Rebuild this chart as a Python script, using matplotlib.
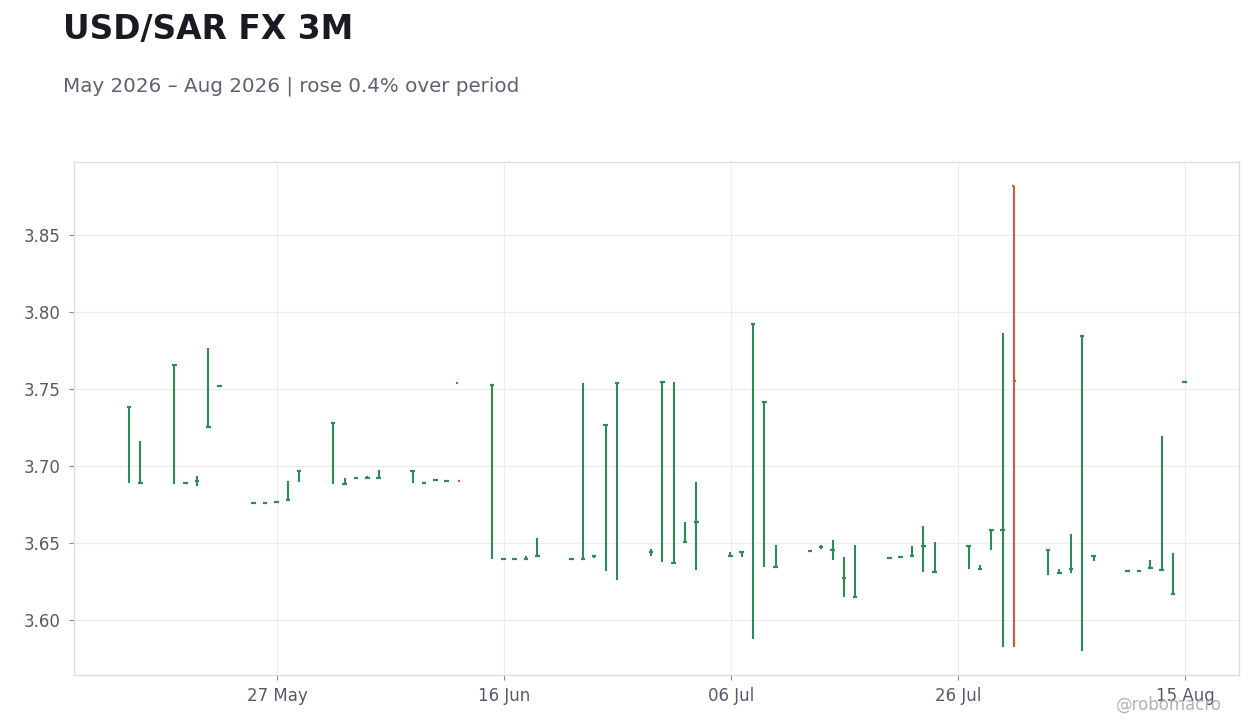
import numpy as np
import matplotlib
matplotlib.use("Agg")
import matplotlib.pyplot as plt
import matplotlib.dates as mdates

dates = ["2026-05-14", "2026-05-15", "2026-05-18", "2026-05-19", "2026-05-20", "2026-05-21", "2026-05-22",
         "2026-05-25", "2026-05-26", "2026-05-27", "2026-05-28", "2026-05-29",
         "2026-06-01", "2026-06-02", "2026-06-03", "2026-06-04", "2026-06-05",
         "2026-06-08", "2026-06-09", "2026-06-10", "2026-06-11", "2026-06-12",
         "2026-06-15", "2026-06-16", "2026-06-17", "2026-06-18", "2026-06-19",
         "2026-06-22", "2026-06-23", "2026-06-24", "2026-06-25", "2026-06-26",
         "2026-06-29", "2026-06-30", "2026-07-01", "2026-07-02", "2026-07-03",
         "2026-07-06", "2026-07-07", "2026-07-08", "2026-07-09", "2026-07-10",
         "2026-07-13", "2026-07-14", "2026-07-15", "2026-07-16", "2026-07-17",
         "2026-07-20", "2026-07-21", "2026-07-22", "2026-07-23", "2026-07-24",
         "2026-07-27", "2026-07-28", "2026-07-29", "2026-07-30", "2026-07-31",
         "2026-08-03", "2026-08-04", "2026-08-05", "2026-08-06", "2026-08-07",
         "2026-08-10", "2026-08-11", "2026-08-12", "2026-08-13", "2026-08-14",
         "2026-08-15"]

open_ = [3.7385, 3.6888, 3.7658, 3.6892, 3.6905, 3.7253, 3.7522,
         3.6762, 3.6762, 3.6768, 3.6779, 3.6970,
         3.7281, 3.6883, 3.6924, 3.6924, 3.6922,
         3.6970, 3.6892, 3.6911, 3.6905, 3.7541,
         3.7528, 3.6396, 3.6396, 3.6398, 3.6416,
         3.6396, 3.6396, 3.6418, 3.7268, 3.7541,
         3.6444, 3.7547, 3.6372, 3.6506, 3.6636,
         3.6416, 3.6444, 3.7924, 3.7418, 3.6344,
         3.6450, 3.6476, 3.6457, 3.6275, 3.6149,
         3.6405, 3.6411, 3.6416, 3.6483, 3.6312,
         3.6483, 3.6333, 3.6586, 3.6586, 3.8818,
         3.6453, 3.6308, 3.6333, 3.7846, 3.6418,
         3.6320, 3.6320, 3.6340, 3.6325, 3.6169,
         3.7547]

high = [3.7385, 3.7162, 3.7658, 3.6898, 3.6935, 3.7766, 3.7522,
        3.6762, 3.6762, 3.6775, 3.6903, 3.6970,
        3.7281, 3.6920, 3.6924, 3.6933, 3.6974,
        3.6970, 3.6892, 3.6911, 3.6905, np.nan,
        3.7528, 3.6396, 3.6396, 3.6414, 3.6532,
        3.6396, 3.7538, 3.6422, 3.7268, 3.7541,
        3.6459, 3.7547, 3.7543, 3.6634, 3.6894,
        3.6440, 3.6444, 3.7924, 3.7418, 3.6485,
        3.6450, 3.6485, 3.6519, 3.6409, 3.6487,
        3.6405, 3.6411, 3.6481, 3.6610, 3.6506,
        3.6483, 3.6355, 3.6586, 3.7862, 3.8818,
        3.6453, 3.6331, 3.6558, 3.7846, 3.6418,
        3.6320, 3.6320, 3.6390, 3.7195, 3.6435,
        3.7547]

low = [3.6892, 3.6888, 3.6885, 3.6886, 3.6872, 3.7253, 3.7522,
       3.6762, 3.6762, 3.6768, 3.6779, 3.6898,
       3.6885, 3.6883, 3.6924, 3.6916, 3.6914,
       3.6892, 3.6892, 3.6911, 3.6905, np.nan,
       3.6396, 3.6396, 3.6396, 3.6398, 3.6416,
       3.6396, 3.6396, 3.6401, 3.6320, 3.6262,
       3.6418, 3.6379, 3.6372, 3.6506, 3.6327,
       3.6416, 3.6411, 3.5875, 3.6346, 3.6344,
       3.6450, 3.6459, 3.6392, 3.6151, 3.6149,
       3.6405, 3.6411, 3.6416, 3.6314, 3.6312,
       3.6333, 3.6333, 3.6457, 3.5823, 3.5823,
       3.6295, 3.6308, 3.6308, 3.5797, 3.6385,
       3.6320, 3.6320, 3.6340, 3.6325, 3.6169,
       3.7547]

close = [3.7385, 3.6888, 3.7658, 3.6892, 3.6905, 3.7253, 3.7522,
         3.6762, 3.6762, 3.6768, 3.6779, 3.6970,
         3.7281, 3.6883, 3.6924, 3.6924, 3.6922,
         3.6970, 3.6892, 3.6911, 3.6905, 3.6905,
         3.7528, 3.6396, 3.6396, 3.6398, 3.6416,
         3.6396, 3.6396, 3.6418, 3.7268, 3.7541,
         3.6444, 3.7547, 3.6372, 3.6506, 3.6636,
         3.6416, 3.6444, 3.7924, 3.7418, 3.6344,
         3.6450, 3.6476, 3.6457, 3.6275, 3.6149,
         3.6405, 3.6411, 3.6416, 3.6483, 3.6312,
         3.6483, 3.6333, 3.6586, 3.6586, 3.7554,
         3.6453, 3.6308, 3.6333, 3.7846, 3.6418,
         3.6320, 3.6320, 3.6340, 3.6325, 3.6169,
         3.7547]

x_ticks = ["2026-05-27", "2026-06-16", "2026-07-06", "2026-07-26", "2026-08-15"]
y_ticks = [3.60, 3.65, 3.70, 3.75, 3.80, 3.85]

title = "USD/SAR FX 3M"
subtitle = "May 2026 – Aug 2026 | rose 0.4% over period"
watermark = "@robomacro"

UP = "#2e8b57"
DOWN = "#cc5b3b"

plt.rcParams['font.family'] = ['DejaVu Sans']
fig = plt.figure(figsize=(12.6, 7.28), dpi=100)
ax = fig.add_axes([74 / 1260, 53 / 728, (1239 - 74) / 1260, (675 - 162) / 728])

x = mdates.datestr2num(dates) - 0.06
o = np.array(open_); h = np.array(high); l = np.array(low); c = np.array(close)
colors = np.where(c >= o, UP, DOWN)
tw = 0.2

ok = ~np.isnan(h)
ax.vlines(x[ok], l[ok], h[ok], colors=colors[ok], linewidth=1.5, zorder=3)
ax.hlines(o, x - tw, x, colors=colors, linewidth=1.6, zorder=3)
ax.hlines(c, x, x + tw, colors=colors, linewidth=1.6, zorder=3)

x0 = mdates.datestr2num(dates[0]); x1 = mdates.datestr2num(dates[-1])
ax.set_xlim(x0 - 4.9, x1 + 4.76)
ax.set_ylim(3.5643, 3.8974)
ax.set_xticks(mdates.datestr2num(x_ticks))
ax.xaxis.set_major_formatter(mdates.DateFormatter("%d %b"))
ax.set_yticks(y_ticks)
ax.set_yticklabels([f"{v:.2f}" for v in y_ticks])

ax.grid(True, color="#ececec", linewidth=0.8, zorder=0)
ax.set_axisbelow(True)
for s in ax.spines.values():
    s.set_color("#dddddd")
    s.set_linewidth(1.0)
ax.tick_params(axis="both", labelcolor="#555a66", labelsize=12, color="#888888", width=0.8)
ax.tick_params(axis="y", length=3.6, pad=6.4)
ax.tick_params(axis="x", length=3.3, pad=5)

fig.text(63 / 1260, 1 - 29 / 728, title, fontsize=23.7, fontweight="bold",
         color="#1a1a22", va="center", ha="left")
fig.text(63 / 1260, 1 - 86 / 728, subtitle, fontsize=14.35, color="#5f6170",
         va="center", ha="left")
fig.text(1222 / 1260, 1 - 705 / 728, watermark, fontsize=12, color="#b3b3b3",
         va="center", ha="right")

fig.savefig("out.png", dpi=100, facecolor="white")
